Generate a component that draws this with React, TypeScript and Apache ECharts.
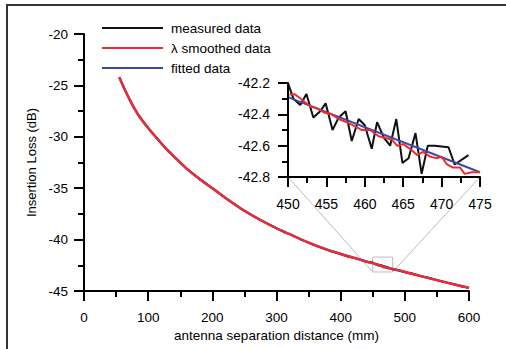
import React, { useEffect, useRef } from "react";
import * as echarts from "echarts";

// ---------- data ----------
const fittedX = [55, 65, 75, 85, 100, 115, 130, 145, 160, 180, 200, 225, 250, 275, 300, 325, 350, 375, 400, 425, 450, 475, 500, 525, 550, 575, 600];
const fittedY = [-24.2, -25.6, -26.85, -27.9, -29.15, -30.25, -31.3, -32.2, -33.1, -34.1, -35.0, -36.15, -37.2, -38.1, -38.9, -39.6, -40.3, -40.9, -41.4, -41.85, -42.29, -42.77, -43.15, -43.55, -43.95, -44.33, -44.7];

const smoothedX = [55, 65, 75, 85, 100, 115, 130, 145, 160, 180, 200, 225, 250, 275, 300, 325, 350, 375, 400, 425,
  450.2, 450.9, 451.9, 452.9, 453.7, 454.8, 455.7, 456.6, 457.6, 458.5, 459.6, 460.7, 461.8, 462.6, 463.5, 464.2, 465.0, 465.9, 466.8, 467.6, 468.5, 469.4, 470.0, 470.7, 471.5, 472.4, 473.0, 473.9, 475.0,
  500, 525, 550, 575, 600];
const smoothedY = [-24.2, -25.6, -26.85, -27.9, -29.15, -30.25, -31.3, -32.2, -33.1, -34.1, -35.0, -36.15, -37.2, -38.1, -38.9, -39.6, -40.3, -40.9, -41.4, -41.85,
  -42.274, -42.272, -42.31, -42.35, -42.36, -42.39, -42.40, -42.43, -42.45, -42.47, -42.50, -42.50, -42.54, -42.55, -42.56, -42.60, -42.59, -42.62, -42.66, -42.64, -42.67, -42.68, -42.67, -42.72, -42.74, -42.74, -42.78, -42.77, -42.77,
  -43.15, -43.55, -43.95, -44.33, -44.7];

const measuredX = [55, 65, 75, 85, 100, 115, 130, 145, 160, 180, 200, 225, 250, 275, 300, 312, 325, 337, 350, 362, 375, 387, 400, 412, 425, 437,
  450.0, 450.7, 451.6, 452.4, 453.3, 454.2, 454.9, 455.8, 456.6, 457.5, 458.3, 459.2, 460.0, 460.9, 461.6, 462.5, 463.3, 464.1, 464.9, 465.7, 466.6, 467.4, 468.2, 469.1, 470.9, 471.7, 473.5,
  480, 487, 500, 512, 525, 537, 550, 562, 575, 587, 600];
const measuredY = [-24.2, -25.6, -26.85, -27.9, -29.15, -30.25, -31.3, -32.2, -33.1, -34.1, -35.0, -36.15, -37.2, -38.1, -38.9, -39.3, -39.58, -39.98, -40.3, -40.62, -40.88, -41.2, -41.38, -41.7, -41.82, -42.12,
  -42.20, -42.30, -42.34, -42.27, -42.42, -42.38, -42.33, -42.50, -42.42, -42.38, -42.57, -42.43, -42.47, -42.62, -42.45, -42.55, -42.60, -42.43, -42.71, -42.68, -42.52, -42.78, -42.60, -42.60, -42.61, -42.72, -42.66,
  -42.9, -42.92, -43.18, -43.3, -43.56, -43.7, -43.92, -44.15, -44.3, -44.55, -44.68];

const seriesNames = ["measured data", "λ smoothed data", "fitted data"];
const mainXRange = [0, 600];
const mainYRange = [-45, -20];
const insetXRange = [450, 475];
const insetYRange = [-42.8, -42.2];
const zoomBoxX = [450, 481];
const zoomBoxY = [-41.7, -43.15];

const FONT = "Liberation Sans, Arial, sans-serif";
const TXT = "#000000";
const AX = "#000000";
const C_MEAS = "#111111";
const C_SMOOTH = "#ee2b30";
const C_FIT = "#3a4aa6";

function pairs(xs: number[], ys: number[]) {
  return xs.map((x, i) => [x, ys[i]]);
}

function axisCommon(fontSize: number, margin: number) {
  return {
    z: 10,
    axisLine: { show: true, onZero: false, lineStyle: { color: AX, width: 2 } },
    axisTick: { show: true, inside: false, length: 10, lineStyle: { color: AX, width: 2 } },
    minorTick: { show: true, splitNumber: 2, length: 6, lineStyle: { color: AX, width: 2 } },
    splitLine: { show: false },
    minorSplitLine: { show: false },
    axisLabel: { margin, fontSize, color: TXT, fontFamily: FONT },
  };
}

export default function App() {
  const ref = useRef<HTMLDivElement>(null);
  useEffect(() => {
    document.body.style.margin = "0";
    const chart = echarts.init(ref.current!, undefined, { renderer: "svg" });
    const inInset = (p: number[]) => p[0] >= insetXRange[0] && p[0] <= insetXRange[1];
    const meas = pairs(measuredX, measuredY);
    const smooth = pairs(smoothedX, smoothedY);
    const fit = pairs(fittedX, fittedY);

    const lineSeries = (name: string, data: number[][], color: string, idx: number, z: number, width: number, smoothing: number) => ({
      type: "line",
      name,
      data,
      xAxisIndex: idx,
      yAxisIndex: idx,
      showSymbol: false,
      symbol: "none",
      smooth: smoothing,
      z,
      lineStyle: { color, width },
      itemStyle: { color },
      clip: true,
    });

    chart.setOption({
      animation: false,
      backgroundColor: "#ffffff",
      textStyle: { fontFamily: FONT },
      grid: [
        { left: 84, right: 37, top: 34, bottom: 58 },
        { left: 288, right: 26, top: 83, bottom: 172 },
      ],
      legend: {
        data: seriesNames,
        orient: "vertical",
        left: 97,
        top: 16,
        itemWidth: 61,
        itemHeight: 2,
        icon: "rect",
        itemGap: 6,
        textStyle: { fontSize: 13.5, color: TXT, fontFamily: FONT, padding: [0, 0, 0, 3] },
      },
      xAxis: [
        {
          gridIndex: 0, type: "value", min: mainXRange[0], max: mainXRange[1], interval: 100,
          ...axisCommon(13.5, 19),
          name: "antenna separation distance (mm)", nameLocation: "middle", nameGap: 36,
          nameTextStyle: { fontSize: 13.5, color: TXT, fontFamily: FONT },
        },
        {
          gridIndex: 1, type: "value", min: insetXRange[0], max: insetXRange[1], interval: 5,
          ...axisCommon(14, 20),
        },
      ],
      yAxis: [
        {
          gridIndex: 0, type: "value", min: mainYRange[0], max: mainYRange[1], interval: 5,
          ...axisCommon(13.5, 16),
          name: "Insertion Loss (dB)", nameLocation: "middle", nameGap: 44,
          nameTextStyle: { fontSize: 13, color: TXT, fontFamily: FONT },
        },
        {
          gridIndex: 1, type: "value", min: insetYRange[0], max: insetYRange[1], interval: 0.2,
          ...axisCommon(14, 18),
          axisLabel: { margin: 18, fontSize: 14, color: TXT, fontFamily: FONT, formatter: (v: number) => v.toFixed(1) },
        },
      ],
      series: [
        lineSeries(seriesNames[0], meas, C_MEAS, 0, 2, 1.6, 0),
        lineSeries(seriesNames[2], fit, C_FIT, 0, 3, 2.4, 0.3),
        lineSeries(seriesNames[1], smooth, C_SMOOTH, 0, 4, 2.4, 0.3),
        lineSeries(seriesNames[0], meas.filter(inInset), C_MEAS, 1, 2, 2, 0),
        lineSeries(seriesNames[2], fit.filter(inInset), C_FIT, 1, 3, 2, 0),
        lineSeries(seriesNames[1], smooth.filter(inInset), C_SMOOTH, 1, 4, 2, 0),
      ],
    });

    const px = (g: number, pt: number[]) => chart.convertToPixel({ gridIndex: g } as any, pt) as number[];
    const bTL = px(0, [zoomBoxX[0], zoomBoxY[0]]);
    const bBR = px(0, [zoomBoxX[1], zoomBoxY[1]]);
    const iBL = px(1, [insetXRange[0], insetYRange[0]]);
    const iBR = px(1, [insetXRange[1], insetYRange[0]]);
    const gray = { stroke: "#bdbdbd", lineWidth: 1 };
    chart.setOption({
      graphic: [
        { type: "line", z: 1, shape: { x1: 7, y1: 5, x2: 506, y2: 5 }, style: { stroke: "#333", lineWidth: 2 } },
        { type: "line", z: 1, shape: { x1: 7, y1: 4, x2: 7, y2: 349 }, style: { stroke: "#333", lineWidth: 2 } },
        { type: "rect", z: 1, shape: { x: bTL[0], y: bTL[1], width: bBR[0] - bTL[0], height: bBR[1] - bTL[1] }, style: { ...gray, fill: "none" } },
        { type: "line", z: 1, shape: { x1: iBL[0], y1: iBL[1], x2: bTL[0], y2: bBR[1] }, style: gray },
        { type: "line", z: 1, shape: { x1: iBR[0], y1: iBR[1], x2: bBR[0], y2: bBR[1] }, style: gray },
      ],
    });
    return () => chart.dispose();
  }, []);
  return <div ref={ref} style={{ width: 506, height: 349 }} />;
}
